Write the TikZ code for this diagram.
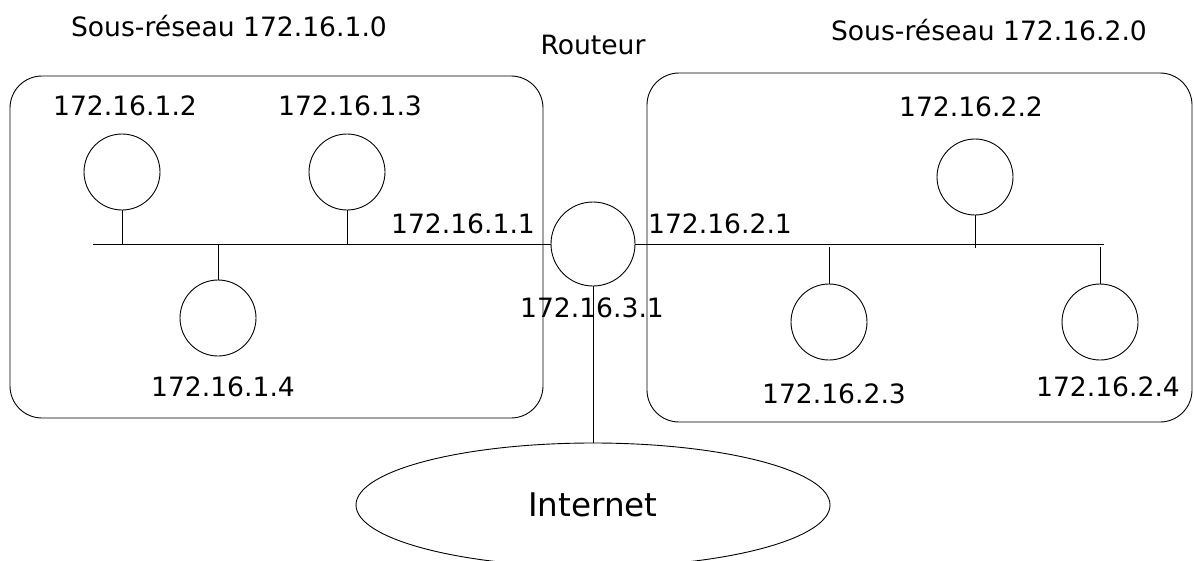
\documentclass[tikz,border=0pt]{standalone}
\usepackage{fontspec}
\setmainfont{DejaVu Sans}
\usetikzlibrary{shapes.geometric}
\begin{document}
\begin{tikzpicture}[x=1pt,y=-1pt,
  every path/.style={line width=0.9pt},
  lbl/.style={anchor=base,inner sep=0pt,font=\fontsize{26.6}{32}\selectfont},
  hdr/.style={anchor=base,inner sep=0pt,font=\fontsize{26.6}{32}\selectfont},
  host/.style={circle,draw,minimum size=76pt,inner sep=0pt},
  routerbox/.style={circle,draw,minimum size=84pt,inner sep=0pt},
  netbox/.style={draw,rounded corners=32pt},
  cloud/.style={ellipse,draw,minimum width=474pt,minimum height=124pt,inner sep=0pt,font=\fontsize{32.6}{39}\selectfont}]
\useasboundingbox (0,0) rectangle (1194,560);

% subnet boxes
\draw[netbox] (10,76) rectangle (543,418);
\draw[netbox] (647,73) rectangle (1192,422);

% headers
\node[hdr] (h1) at (229,36) {Sous-réseau 172.16.1.0};
\node[hdr] (hr) at (593,54) {Routeur};
\node[hdr] (h2) at (989,40) {Sous-réseau 172.16.2.0};

% router and internet
\node[routerbox] (router) at (593,244) {};
\node[cloud] (internet) at (593,505) {Internet};

% hosts
\node[host] (n12) at (122,172) {};
\node[host] (n13) at (347,172) {};
\node[host] (n14) at (218,318) {};
\node[host] (n22) at (975,177) {};
\node[host] (n23) at (829,322) {};
\node[host] (n24) at (1100,322) {};

% bus coordinates
\coordinate (busL) at (93,244);
\coordinate (busR) at (1104,244);
\coordinate (b12) at (122,244);
\coordinate (b13) at (347,244);
\coordinate (b14) at (218,244);
\coordinate (b22) at (975,248);
\coordinate (b23) at (829,247);
\coordinate (b24) at (1100,247);

% wires
\draw (busL) -- (router.west);
\draw (router.east) -- (busR);
\draw (n12.south) -- (b12);
\draw (n13.south) -- (b13);
\draw (b14) -- (n14.north);
\draw (n22.south) -- (b22);
\draw (b23) -- (n23.north);
\draw (b24) -- (n24.north);
\draw (router.south) -- (internet.north);

% labels
\node[lbl] (l12) at (125,115) {172.16.1.2};
\node[lbl] (l13) at (350,115) {172.16.1.3};
\node[lbl] (l14) at (223,396) {172.16.1.4};
\node[lbl] (l11) at (463,233) {172.16.1.1};
\node[lbl] (l21) at (720,233) {172.16.2.1};
\node[lbl] (l31) at (592,317) {172.16.3.1};
\node[lbl] (l22) at (971,116) {172.16.2.2};
\node[lbl] (l23) at (834,403) {172.16.2.3};
\node[lbl] (l24) at (1108,396) {172.16.2.4};
\end{tikzpicture}
\end{document}
